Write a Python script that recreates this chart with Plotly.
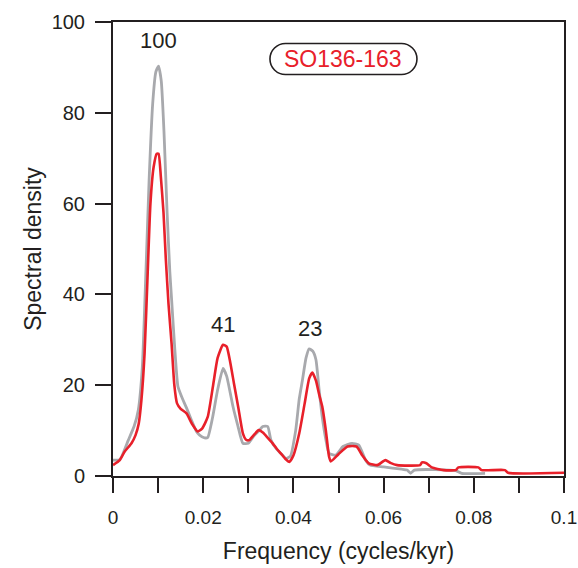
import plotly.graph_objects as go

# Gray curve (reference spectrum)
gray_f = [0.0000, 0.0015, 0.0034, 0.0047, 0.0056, 0.0065, 0.0073, 0.0080, 0.0088, 0.0095,
          0.0101, 0.0107, 0.0113, 0.0120, 0.0126, 0.0130, 0.0137, 0.0144, 0.0152, 0.0163,
          0.0174, 0.0185, 0.0192, 0.0203, 0.0210, 0.0221, 0.0232, 0.0244, 0.0252, 0.0266,
          0.0277, 0.0288, 0.0300, 0.0312, 0.0324, 0.0332, 0.0343, 0.0350, 0.0362, 0.0374,
          0.0383, 0.0393, 0.0405, 0.0413, 0.0420, 0.0428, 0.0435, 0.0443, 0.0450, 0.0457,
          0.0464, 0.0472, 0.0479, 0.0494, 0.0510, 0.0530, 0.0545, 0.0560, 0.0570, 0.0600,
          0.0640, 0.0652, 0.0660, 0.0668, 0.0760, 0.0773, 0.0825]
gray_y = [3.5, 3.6, 7.9, 11.0, 14.5, 24.0, 45.0, 65.0, 82.0, 89.0,
          90.3, 87.0, 76.0, 58.0, 45.0, 38.8, 28.0, 19.7, 17.5, 15.0,
          12.3, 9.8, 9.0, 8.4, 8.5, 13.0, 19.0, 23.7, 22.0, 15.3,
          11.0, 7.2, 7.2, 8.8, 10.0, 10.9, 10.9, 8.0, 6.0, 4.8,
          3.9, 4.3, 10.0, 17.0, 21.1, 26.0, 28.0, 27.5, 25.6, 19.0,
          13.0, 8.0, 5.0, 4.6, 6.5, 7.2, 6.8, 3.5, 2.4, 2.0,
          1.5, 1.3, 0.6, 1.3, 1.2, 0.6, 0.6]

# Red curve (SO136-163)
red_f = [0.0000, 0.0015, 0.0026, 0.0041, 0.0050, 0.0057, 0.0063, 0.0070, 0.0077, 0.0083,
         0.0090, 0.0097, 0.0101, 0.0106, 0.0112, 0.0117, 0.0123, 0.0130, 0.0136, 0.0142,
         0.0150, 0.0163, 0.0175, 0.0188, 0.0198, 0.0210, 0.0222, 0.0232, 0.0244, 0.0252,
         0.0260, 0.0268, 0.0278, 0.0288, 0.0295, 0.0302, 0.0312, 0.0323, 0.0333, 0.0344,
         0.0354, 0.0363, 0.0372, 0.0382, 0.0391, 0.0400, 0.0413, 0.0425, 0.0435, 0.0442,
         0.0450, 0.0457, 0.0464, 0.0472, 0.0479, 0.0483, 0.0500, 0.0520, 0.0540, 0.0553,
         0.0567, 0.0586, 0.0604, 0.0615, 0.0630, 0.0681, 0.0685, 0.0695, 0.0707, 0.0733,
         0.0760, 0.0766, 0.0810, 0.0817, 0.0869, 0.0876, 0.1000]
red_y = [2.4, 3.5, 5.4, 7.2, 9.0, 11.5, 16.7, 27.0, 45.0, 60.0,
         68.0, 71.0, 71.0, 66.0, 58.0, 48.0, 38.0, 29.0, 20.0, 16.0,
         14.8, 13.8, 11.5, 9.8, 10.5, 13.0, 20.0, 26.0, 28.9, 28.5,
         25.0, 20.5, 15.0, 9.4, 8.0, 7.9, 9.0, 10.1, 9.5, 8.3,
         7.2, 6.0, 5.0, 3.8, 3.1, 4.5, 9.4, 16.0, 21.5, 22.8,
         21.0, 18.0, 15.3, 10.0, 4.3, 3.2, 4.8, 6.5, 6.5, 4.5,
         2.8, 2.4, 3.5, 2.9, 2.4, 2.4, 3.0, 2.8, 1.9, 1.3,
         1.3, 1.9, 1.9, 1.3, 1.3, 0.7, 0.7]

peak_labels = ["100", "41", "23"]
peak_f = [0.0100, 0.0243, 0.0437]
peak_y = [96.0, 33.3, 32.4]

x_tickvals = [0.00, 0.01, 0.02, 0.03, 0.04, 0.05, 0.06, 0.07, 0.08, 0.09, 0.10]
x_ticktext = ["0", "", "0.02", "", "0.04", "", "0.06", "", "0.08", "", "0.1"]
y_tickvals = [0, 20, 40, 60, 80, 100]

FONT = "Liberation Sans, Arial, sans-serif"
AX = "#231f20"
RED = "#e8202a"
GRAY = "#a8a9ad"

fig = go.Figure()
fig.add_trace(go.Scatter(x=gray_f, y=gray_y, mode="lines",
                         line=dict(color=GRAY, width=2.8, shape="spline", smoothing=0.5),
                         showlegend=False))
fig.add_trace(go.Scatter(x=red_f, y=red_y, mode="lines",
                         line=dict(color=RED, width=2.6, shape="spline", smoothing=0.5),
                         showlegend=False))

for t, fx, fy in zip(peak_labels, peak_f, peak_y):
    fig.add_annotation(x=fx, y=fy, text=t, showarrow=False,
                       xanchor="center", yanchor="middle",
                       font=dict(family=FONT, size=22, color=AX))

# label box (stadium shape)
BX, BY = 0.511, 0.9185
fig.add_annotation(x=BX, y=BY, xref="paper", yref="paper", text="SO136-163",
                   showarrow=False, xanchor="center", yanchor="middle",
                   font=dict(family=FONT, size=23, color=RED))

w, h = 147, 31
r = h / 2
hw = w / 2
k = 0.5523 * r
path = (f"M {-hw + r},{-r} L {hw - r},{-r} "
        f"C {hw - r + k},{-r} {hw},{-k} {hw},0 "
        f"C {hw},{k} {hw - r + k},{r} {hw - r},{r} "
        f"L {-hw + r},{r} "
        f"C {-hw + r - k},{r} {-hw},{k} {-hw},0 "
        f"C {-hw},{-k} {-hw + r - k},{-r} {-hw + r},{-r} Z")
fig.add_shape(type="path", xref="paper", yref="paper",
              xsizemode="pixel", ysizemode="pixel",
              xanchor=BX, yanchor=BY, path=path,
              line=dict(color=AX, width=1.6), fillcolor="rgba(0,0,0,0)")

fig.update_layout(
    width=578, height=568,
    margin=dict(l=113, r=14, t=22, b=92),
    paper_bgcolor="white", plot_bgcolor="white",
    font=dict(family=FONT, size=20, color=AX),
)
fig.update_xaxes(range=[0, 0.1], tickvals=x_tickvals, ticktext=x_ticktext,
                 ticks="outside", ticklen=15, tickwidth=1.5, tickcolor=AX,
                 showline=True, linecolor=AX, linewidth=2, mirror=True,
                 showgrid=False, zeroline=False, automargin=False,
                 tickfont=dict(size=19),
                 ticklabelstandoff=8, ticklabeloverflow="allow",
                 title=dict(text="Frequency (cycles/kyr)", font=dict(size=23), standoff=16))
fig.update_yaxes(range=[0, 100], tickvals=y_tickvals,
                 ticks="outside", ticklen=16, tickwidth=1.5, tickcolor=AX,
                 showline=True, linecolor=AX, linewidth=2, mirror=True,
                 showgrid=False, zeroline=False, automargin=False,
                 ticklabelstandoff=6, ticklabeloverflow="allow",
                 title=dict(text="Spectral density", font=dict(size=23), standoff=4))

fig.write_html("out.html")
